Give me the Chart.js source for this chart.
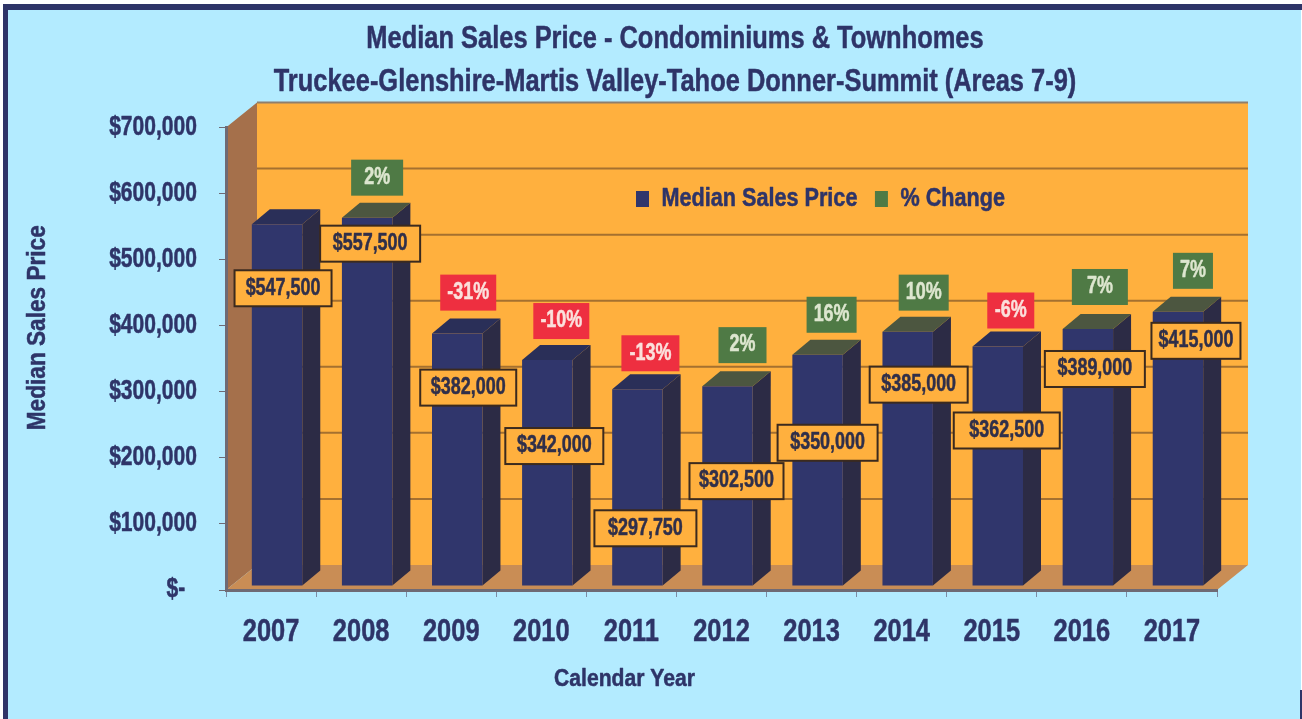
<!DOCTYPE html>
<html><head><meta charset="utf-8">
<style>html,body{margin:0;padding:0;background:#fff;overflow:hidden}#w{width:1302px;height:719px;position:relative}</style>
<script src="https://cdn.jsdelivr.net/npm/chart.js@4/dist/chart.umd.min.js"></script>
</head><body><div id="w"><canvas id="c" width="1302" height="719"></canvas></div>
<script>
const years = ['2007','2008','2009','2010','2011','2012','2013','2014','2015','2016','2017'];
const medianPrice = [547500,557500,382000,342000,297750,302500,350000,385000,362500,389000,415000];
const pctChange = [null,2,-31,-10,-13,2,16,10,-6,7,7];
const yTicks = [0,100000,200000,300000,400000,500000,600000,700000];

// layout of hand-placed callouts, relative to each bar's top
const priceDx = [6,3,11,7,8,9,10,11,9,7,18];
const priceDy = [64,26,54,86,139,95,88,53,84,40,29];
const priceW  = [97,100,96,98,102,94,100,98,106,100,89];
const pctDx = [0,10,11,14,13,15,14,16,13,12,15];
const pctDy = [0,-40,-41,-39,-36,-41,-40,-39,-36,-42,-41];
const pctW  = [0,52,56,56,58,48,50,50,47,56,40];

const FONT = '"Liberation Sans",Arial,sans-serif';
const NAVY = '#2e3468';
const WALL_DX = 31, WALL_DY = 25;
const BAR_DX = 6, BAR_DY = -4, D_X = 18, D_Y = 15;

const canvas = document.getElementById('c');
const ctx0 = canvas.getContext('2d');
// No narrow face is installed, so text is condensed horizontally to the reference's proportions
function squeeze(font){
  const m = /(\d+(?:\.\d+)?)px/.exec(font);
  const s = m ? +m[1] : 0;
  if(s===24) return 0.88;
  if(s===25) return 0.865;
  if(s===26) return 0.87;
  if(s===32) return 0.795;
  return 0.78;
}
const nativeFill = ctx0.fillText.bind(ctx0), nativeStroke = ctx0.strokeText.bind(ctx0), nativeMeasure = ctx0.measureText.bind(ctx0);
ctx0.fillText = function(t,x,y){
  const k = squeeze(ctx0.font);
  ctx0.save();
  ctx0.translate(x,y); ctx0.scale(k,1);
  ctx0.strokeStyle = ctx0.fillStyle; ctx0.lineWidth = 0.5; ctx0.lineJoin='round';
  nativeStroke(t,0,0);
  nativeFill(t,0,0);
  ctx0.restore();
};
ctx0.measureText = function(t){
  return {width: nativeMeasure(t).width*squeeze(ctx0.font)};
};

function poly(ctx, pts, fill){
  ctx.beginPath(); ctx.moveTo(pts[0][0],pts[0][1]);
  for(let i=1;i<pts.length;i++) ctx.lineTo(pts[i][0],pts[i][1]);
  ctx.closePath(); ctx.fillStyle=fill; ctx.fill();
}
function nudgeTitle(scale, dx, dy){
  const orig = scale.drawTitle;
  scale.drawTitle = function(){
    const c = this.ctx; c.save(); c.translate(dx,dy); orig.call(this); c.restore();
  };
}

const scene = {
  id:'scene',
  afterLayout(chart){
    chart.titleBlock.left += 133;
    const lg = chart.legend;
    lg.left = 618.5; lg.right = 1100; lg.top = 169; lg.bottom = 232;
    nudgeTitle(chart.scales.x,-97,3);
    nudgeTitle(chart.scales.y,0,-31);
  },
  beforeDraw(chart){
    const {ctx} = chart, a = chart.chartArea, y = chart.scales.y;
    ctx.save();
    ctx.fillStyle='#fff'; ctx.fillRect(0,0,chart.width,chart.height);
    ctx.fillStyle='#b3ebff'; ctx.fillRect(5,8,1296,711);
    ctx.fillStyle=NAVY; ctx.fillRect(3,4,1299,6); ctx.fillRect(3,4,5,715);
    ctx.fillRect(1300,690,2,29);
    const L=a.left,R=a.right,T=a.top,B=a.bottom;
    poly(ctx,[[L+WALL_DX,T-WALL_DY],[R+WALL_DX,T-WALL_DY],[R+WALL_DX,B-WALL_DY],[L+WALL_DX,B-WALL_DY]],'#ffb03e');
    poly(ctx,[[L,T],[L+WALL_DX,T-WALL_DY],[L+WALL_DX,B-WALL_DY],[L,B]],'#a5704b');
    poly(ctx,[[L,B],[L+WALL_DX,B-WALL_DY],[R+WALL_DX,B-WALL_DY],[R,B]],'#c98d55');
    ctx.lineWidth=2;
    yTicks.forEach(v=>{
      if(v===0) return;
      const py=y.getPixelForValue(v)-WALL_DY;
      ctx.strokeStyle = v===700000 ? '#8f7f6c' : '#a5702f';
      ctx.beginPath(); ctx.moveTo(L+WALL_DX,py); ctx.lineTo(R+WALL_DX,py); ctx.stroke();
    });
    ctx.restore();
  },
  beforeDatasetDraw(chart,args){
    if(args.index!==0) return;
    const {ctx}=chart, meta=chart.getDatasetMeta(0);
    ctx.save();
    ctx.translate(BAR_DX,BAR_DY);
    meta.data.forEach((b,i)=>{
      const l=b.x-b.width/2,r=b.x+b.width/2,t=b.y,bt=b.base;
      poly(ctx,[[r,t],[r+D_X,t-D_Y],[r+D_X,bt-D_Y],[r,bt]],'#2c2b45');
      const up = pctChange[i]!==null && pctChange[i]>0;
      poly(ctx,[[l,t],[l+D_X,t-D_Y],[r+D_X,t-D_Y],[r,t]],up?'#4c5640':'#2a2f58');
    });
  },
  afterDatasetDraw(chart,args){
    if(args.index===0) chart.ctx.restore();
  },
  afterDraw(chart){
    const {ctx}=chart, meta=chart.getDatasetMeta(0);
    ctx.save();
    ctx.textAlign='center'; ctx.textBaseline='middle';
    ctx.font='bold 23px '+FONT;
    meta.data.forEach((b,i)=>{
      const top=b.y+BAR_DY, cx=b.x+BAR_DX;
      if(pctChange[i]!==null){
        const x=cx+pctDx[i], yy=top+pctDy[i], w=pctW[i];
        ctx.fillStyle=pctChange[i]<0?'#ee2f40':'#4f7a45';
        ctx.fillRect(x-w/2,yy-18,w,36);
        ctx.fillStyle=pctChange[i]<0?'#fbe0dc':'#dde6cf';
        ctx.fillText(pctChange[i]+'%',x,yy);
      }
    });
    meta.data.forEach((b,i)=>{
      const top=b.y+BAR_DY, cx=b.x+BAR_DX;
      const x=cx+priceDx[i], yy=top+priceDy[i], w=priceW[i];
      ctx.fillStyle='#ffb03e'; ctx.fillRect(x-w/2,yy-18,w,36);
      ctx.strokeStyle='#3b2a1e'; ctx.lineWidth=2; ctx.strokeRect(x-w/2,yy-18,w,36);
      ctx.fillStyle='#2f2f4a';
      ctx.fillText('$'+medianPrice[i].toLocaleString('en-US'),x,yy);
    });
    ctx.restore();
  }
};

new Chart(canvas,{
  type:'bar',
  data:{labels:years,datasets:[
    {label:'Median Sales Price',data:medianPrice,backgroundColor:'#30366c',borderWidth:0,barPercentage:0.56,categoryPercentage:1,yAxisID:'y',order:1},
    {type:'line',label:'% Change',data:pctChange,backgroundColor:'#4f7a45',borderColor:'#4f7a45',borderWidth:0,showLine:false,pointRadius:0,yAxisID:'yPct',order:2}
  ]},
  plugins:[scene],
  options:{
    responsive:false,animation:false,
    layout:{padding:{left:0,right:85,top:0,bottom:0}},
    plugins:{
      tooltip:{enabled:false},
      title:{display:true,text:['Median Sales Price - Condominiums & Townhomes','Truckee-Glenshire-Martis Valley-Tahoe Donner-Summit (Areas 7-9)'],
        color:NAVY,font:{family:FONT,size:32,weight:'bold',lineHeight:1.344},padding:{top:17.5,bottom:-28.5}},
      legend:{display:true,position:'top',align:'start',
        labels:{color:NAVY,font:{family:FONT,size:25,weight:'bold',lineHeight:0.92},boxWidth:13,boxHeight:16,padding:17.5}}
    },
    scales:{
      x:{offset:true,
        grid:{display:true,drawOnChartArea:false,drawTicks:true,tickLength:7,color:'#7d8aa5',offset:true},
        border:{display:true,color:'#6f6a74',width:3},
        ticks:{color:NAVY,font:{family:FONT,size:32,weight:'bold'},padding:16,maxRotation:0},
        title:{display:true,text:'Calendar Year',color:NAVY,font:{family:FONT,size:24,weight:'bold'},padding:{top:0,bottom:28}},
        afterFit(s){s.height=129;}
      },
      y:{min:0,max:700000,
        afterBuildTicks(s){s.ticks=yTicks.map(v=>({value:v}));},
        grid:{display:true,drawOnChartArea:false,drawTicks:true,tickLength:7,color:'#6f6a74'},
        border:{display:true,color:'#6f6a74',width:3},
        ticks:{color:NAVY,font:{family:FONT,size:27,weight:'bold'},padding:22,
          callback(v){return v===0?'$-\u00a0\u00a0':'$'+v.toLocaleString('en-US');}},
        title:{display:true,text:'Median Sales Price',color:NAVY,font:{family:FONT,size:26,weight:'bold'},padding:{top:22,bottom:0}},
        afterFit(s){s.width=226;}
      },
      yPct:{display:false,min:-50,max:50,position:'right'}
    }
  }
});
</script></body></html>
